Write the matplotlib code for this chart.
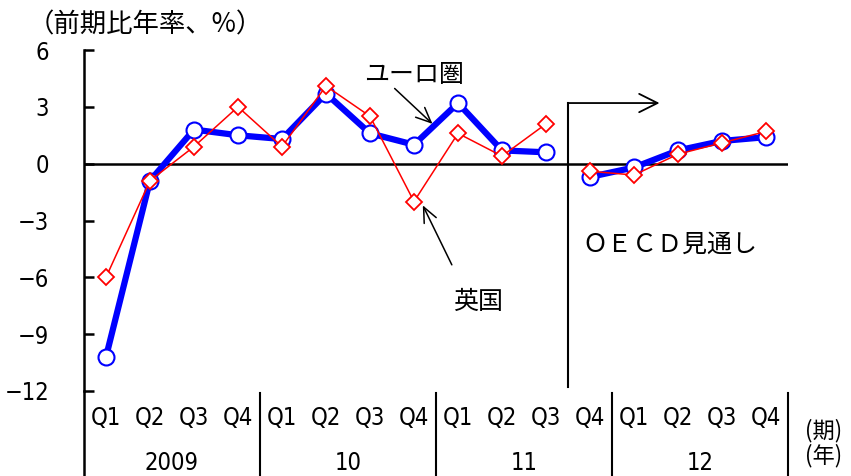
import matplotlib.pyplot as plt
from matplotlib import font_manager as fm
import numpy as np

plt.rcParams['font.family'] = ['Noto Sans CJK JP', 'DejaVu Sans']

# 数字用の細めのフォント
names = {f.name for f in fm.fontManager.ttflist}
if 'Liberation Sans Narrow' in names:
    num_font = dict(family=['Liberation Sans Narrow', 'DejaVu Sans'])
else:
    num_font = dict(family=['DejaVu Sans'], fontstretch='condensed')

# 四半期ラベルと年
quarters = ['Q1', 'Q2', 'Q3', 'Q4'] * 4
years = ['2009', '10', '11', '12']

# 実質GDP成長率（前期比年率、%）
euro = [-10.2, -0.9, 1.8, 1.5, 1.3, 3.7, 1.6, 1.0, 3.2, 0.7, 0.6,
        -0.7, -0.2, 0.7, 1.2, 1.4]
uk = [-6.0, -0.9, 0.9, 3.0, 0.9, 4.1, 2.5, -2.0, 1.6, 0.4, 2.1,
      -0.4, -0.6, 0.5, 1.1, 1.7]
n_actual = 11  # 2011Q3までが実績、以降はOECD見通し

yticks = [6, 3, 0, -3, -6, -9, -12]

fig = plt.figure(figsize=(8.51, 4.76), dpi=100)
ax = fig.add_axes([84/851, 1-391/476, 704/851, 341/476])

x = np.arange(len(euro))
for sl in (slice(0, n_actual), slice(n_actual, None)):
    ax.plot(x[sl], euro[sl], color='#0000ff', lw=4.5, marker='o', ms=11.5,
            mfc='white', mec='#0000ff', mew=1.5, zorder=3)
    ax.plot(x[sl], uk[sl], color='#ff0000', lw=1.1, marker='D', ms=8,
            mfc='white', mec='#ff0000', mew=1.3, zorder=4)

ax.axhline(0, color='black', lw=1.8, zorder=1)

ax.set_xlim(-0.5, 15.5)
ax.set_ylim(-12, 6)
ax.set_yticks(yticks)
ax.set_yticklabels([str(v).replace('-', '−') for v in yticks], fontsize=17,
                   **num_font)
ax.tick_params(axis='y', direction='in', length=7, width=1.8, pad=25)
ax.set_xticks([])
for s in ['top', 'right', 'bottom']:
    ax.spines[s].set_visible(False)
ax.spines['left'].set_linewidth(1.8)

# 見通し期間の区切り線と矢印
ax.plot([10.5, 10.5], [-11.8, 3.2], color='black', lw=1.5, clip_on=False)
ax.annotate('', xy=(12.58, 3.2), xytext=(10.5, 3.2),
            arrowprops=dict(arrowstyle='->,head_length=1.1,head_width=0.55',
                            mutation_scale=12, color='black', lw=1.3,
                            shrinkA=0, shrinkB=0))
ax.text(10.82, -4.3, 'ＯＥＣＤ見通し', fontsize=18, va='center', ha='left')

arrow_kw = dict(arrowstyle='->,head_length=0.9,head_width=0.4',
                mutation_scale=12, color='black', lw=1.1, shrinkA=0, shrinkB=0)
ax.text(7.0, 4.7, 'ユーロ圏', fontsize=18, ha='center', va='center')
ax.annotate('', xy=(7.42, 2.1), xytext=(6.56, 3.97), arrowprops=arrow_kw)
ax.text(8.45, -7.3, '英国', fontsize=18, ha='center', va='center')
ax.annotate('', xy=(7.2, -2.2), xytext=(7.86, -5.34), arrowprops=arrow_kw)

# 下部の期・年ラベル
tr = ax.get_xaxis_transform()
for i, q in enumerate(quarters):
    ax.text(i, -0.079, q, transform=tr, ha='center', va='center',
            fontsize=17, **num_font)
for j, yr in enumerate(years):
    ax.text(4*j + 1.5, -0.211, yr, transform=tr, ha='center', va='center',
            fontsize=17, **num_font)
for xb in [-0.5, 3.5, 7.5, 11.5, 15.5]:
    ax.plot([xb, xb], [-0.25, 0.0 if xb == -0.5 else -0.005], color='black',
            lw=1.5 if xb != -0.5 else 1.8, transform=tr, clip_on=False)
ax.text(15.88, -0.117, '(期)', transform=tr, ha='left', va='center', fontsize=16)
ax.text(15.88, -0.19, '(年)', transform=tr, ha='left', va='center', fontsize=16)

fig.text(28/851, 1-25/476, '（前期比年率、%）', fontsize=19, ha='left', va='center')

fig.savefig('out.png', dpi=100)
